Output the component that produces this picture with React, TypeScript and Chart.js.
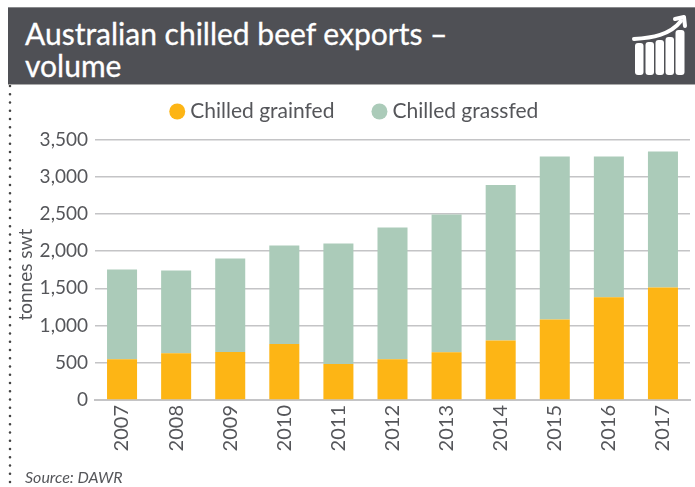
import React, { useEffect, useRef } from "react";
import { Chart, registerables } from "chart.js";

Chart.register(...registerables);

const years = ["2007", "2008", "2009", "2010", "2011", "2012", "2013", "2014", "2015", "2016", "2017"];
const grainfed = [546, 627, 645, 752, 483, 546, 640, 801, 1080, 1379, 1513];
const grassfed = [1209, 1114, 1257, 1325, 1621, 1773, 1853, 2086, 2192, 1893, 1826];

const FONT = "Lato";
const GRAINFED_COLOR = "#fdb515";
const GRASSFED_COLOR = "#abcbb9";
const TEXT_COLOR = "#55565a";

// Wide gaps between legend items also inflate the legend's height, so the
// legend box is nudged into place once the layout has been computed.
const legendNudge = {
  id: "legendNudge",
  afterLayout(chart: any) {
    const legend = chart.legend;
    legend.top -= 7.5;
    legend.bottom -= 7.5;
    legend.left += 11.5;
    legend.right += 11.5;
  },
};

export default function App() {
  const canvasRef = useRef<HTMLCanvasElement | null>(null);

  useEffect(() => {
    document.body.style.margin = "0";
    const chart = new Chart(canvasRef.current!, {
      type: "bar",
      data: {
        labels: years,
        datasets: [
          { label: "Chilled grainfed", data: grainfed, backgroundColor: GRAINFED_COLOR },
          { label: "Chilled grassfed", data: grassfed, backgroundColor: GRASSFED_COLOR },
        ],
      },
      plugins: [legendNudge],
      options: {
        animation: false,
        responsive: false,
        layout: { padding: { top: 66, right: 5, bottom: 0, left: 0 } },
        datasets: { bar: { categoryPercentage: 1, barPercentage: 0.555 } },
        plugins: {
          tooltip: { enabled: false },
          legend: {
            position: "top",
            labels: {
              usePointStyle: true,
              pointStyle: "circle",
              boxWidth: 5,
              boxHeight: 11.3,
              padding: 42.5,
              color: TEXT_COLOR,
              font: { family: FONT, size: 21 },
            },
          },
        },
        scales: {
          x: {
            stacked: true,
            afterFit: (s: any) => { s.height = 87; },
            grid: { display: false, drawTicks: false },
            border: { color: "#c4c4c6", width: 2 },
            ticks: {
              color: TEXT_COLOR,
              maxRotation: 90,
              minRotation: 90,
              padding: 5,
              font: { family: FONT, size: 20 },
            },
          },
          y: {
            stacked: true,
            min: 0,
            max: 3500,
            afterFit: (s: any) => { s.width = 95; },
            grid: { color: "#c4c4c6", lineWidth: 1.5, drawTicks: false },
            border: { display: false },
            title: {
              display: true,
              text: "tonnes swt\u00a0\u00a0",
              color: TEXT_COLOR,
              padding: { top: 14, bottom: 0 },
              font: { family: FONT, size: 19 },
            },
            ticks: {
              stepSize: 500,
              color: TEXT_COLOR,
              padding: 7,
              font: { family: FONT, size: 19 },
              callback: (v: any) => Number(v).toLocaleString("en-US"),
            },
          },
        },
      },
    });
    return () => chart.destroy();
  }, []);

  return (
    <div style={{ position: "relative", width: 695, height: 487, overflow: "hidden", background: "#fff" }}>
      <canvas ref={canvasRef} width={695} height={487} style={{ position: "absolute", left: 0, top: 0 }} />
      <svg width={14} height={403} style={{ position: "absolute", left: 3, top: 84 }}>
        <line x1={7} y1={2} x2={7} y2={403} stroke="#444" strokeWidth={2.6} strokeLinecap="round" strokeDasharray="0 8.25" />
      </svg>
      <div
        style={{
          position: "absolute",
          left: 8,
          top: 7,
          width: 687,
          height: 78,
          boxSizing: "border-box",
          background: "#4f5055",
          borderTop: "1px solid #88898c",
          borderBottom: "1px solid #aaa",
          color: "#fff",
          fontFamily: FONT,
          fontSize: 30,
          lineHeight: "32px",
          padding: "9px 0 0 17px",
          WebkitTextStroke: "0.3px #fff",
        }}
      >
        Australian chilled beef exports –
        <br />
        volume
        <svg width={60} height={72} viewBox="0 0 60 72" style={{ position: "absolute", left: 622, top: -1, WebkitTextStroke: "0" }}>
          <g fill="#fff">
            <rect x={5} y={36} width={8.5} height={32} rx={3} />
            <rect x={15.5} y={35} width={8.5} height={33} rx={3} />
            <rect x={25.5} y={33} width={8.5} height={35} rx={3} />
            <rect x={35.5} y={30} width={8.5} height={38} rx={3} />
            <rect x={45.5} y={23} width={9} height={45} rx={3} />
          </g>
          <path d="M4 32 C22 31 40 28 51 14" fill="none" stroke="#fff" strokeWidth={4} strokeLinecap="round" />
          <path d="M45 12 L54 10 L55 19" fill="none" stroke="#fff" strokeWidth={4} strokeLinecap="round" strokeLinejoin="round" />
        </svg>
      </div>
      <div
        style={{
          position: "absolute",
          left: 25,
          top: 468,
          color: TEXT_COLOR,
          fontFamily: FONT,
          fontStyle: "italic",
          fontSize: 16,
          lineHeight: "18px",
        }}
      >
        Source: DAWR
      </div>
    </div>
  );
}
